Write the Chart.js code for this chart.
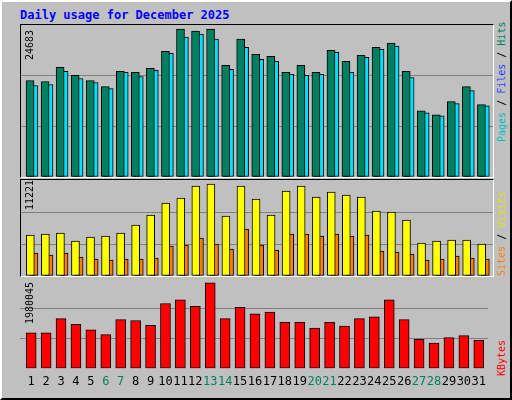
<!DOCTYPE html>
<html>
<head>
<meta charset="utf-8">
<script src="https://cdn.jsdelivr.net/npm/chart.js@4/dist/chart.umd.min.js"></script>
<style>
  body { margin: 0; background: #fff; }
  #page { position: absolute; left: 0; top: 0; width: 508px; height: 396px; background: #c0c0c0;
          border-top: 2px solid #fff; border-left: 2px solid #fff; border-right: 2px solid #000; border-bottom: 2px solid #000; }
  .title { position: absolute; left: 18px; top: 6px; font: bold 12px "DejaVu Sans Mono", monospace; color: #0000ff; }
  .panel { position: absolute; left: 18px; width: 472px; border-top: 1px solid #000; border-left: 1px solid #000;
           border-right: 1px solid #fff; border-bottom: 1px solid #fff; }
  .vlab { position: absolute; font: 10px "DejaVu Sans Mono", monospace; line-height: 12px; transform: rotate(-90deg); transform-origin: left top; white-space: nowrap; }
</style>
</head>
<body>
<div id="page">
  <div class="title">Daily usage for December 2025</div>
  <div class="panel" style="top:22px;height:152px"><canvas id="c1"></canvas></div>
  <div class="panel" style="top:177px;height:96px"><canvas id="c2"></canvas></div>
  <div class="panel" style="top:277px;height:116px;border:none"><canvas id="c3"></canvas></div>
  <div class="vlab" style="left:22px;top:58px;color:#000">24683</div>
  <div class="vlab" style="left:22px;top:208px;color:#000">11221</div>
  <div class="vlab" style="left:22px;top:322px;color:#000">1980045</div>
  <div class="vlab" style="left:494px;top:140px"><span style="color:#00c0c0">Pages</span> / <span style="color:#2040ff">Files</span> / <span style="color:#008060">Hits</span></div>
  <div class="vlab" style="left:494px;top:274px"><span style="color:#ff8000">Sites</span> / <span style="color:#e0e000">Visits</span></div>
  <div class="vlab" style="left:494px;top:374px"><span style="color:#ff0000">KBytes</span></div>
</div>
<script>
const days = Array.from({ length: 31 }, (_, i) => i + 1);
const weekend = [6, 7, 13, 14, 20, 21, 27, 28];

const hits = [16101, 15932, 18289, 16942, 16101, 15091, 17615, 17447, 18120, 20981, 24683, 24347, 24683, 18625, 23001, 20477,
    20140, 17447, 18625, 17447, 21150, 19298, 20308, 21655, 22328, 17615, 11052, 10379, 12566, 15091, 12062];
const files = [15259, 15428, 17615, 16437, 15764, 14754, 17447, 16774, 17784, 20645, 23338, 23843, 23001, 17952, 21655, 19635,
    19298, 17111, 16942, 17111, 20813, 17447, 19972, 21318, 21823, 16606, 10715, 10210, 12230, 14418, 11893];
const pages = [13576, 13408, 15764, 15091, 14081, 12903, 15764, 15428, 16101, 18625, 21823, 21318, 23169, 16942, 21486, 19130,
    19130, 15764, 17615, 15932, 18794, 16942, 17784, 17279, 20477, 15764, 9537, 8696, 10715, 12230, 9200];
const visits = [5001, 5123, 5245, 4269, 4757, 4879, 5245, 6221, 7441, 8905, 9514, 10978, 11221, 7319, 10978, 9392,
    7441, 10368, 10978, 9636, 10246, 9880, 9636, 7929, 7807, 6831, 4025, 4269, 4391, 4391, 3903];
const sites = [2806, 2562, 2806, 2318, 2074, 1952, 2074, 2074, 2196, 3659, 3781, 4635, 3903, 3293, 5733, 3781,
    3171, 5123, 5123, 4879, 5123, 4879, 5001, 3050, 2928, 2684, 1952, 2074, 2440, 2196, 2074];
const kbytes = [826842, 826842, 1153227, 1022673, 892119, 783324, 1131468, 1109709, 1000914, 1501371, 1588407, 1436094, 1980045,
    1153227, 1414335, 1262022, 1305540, 1066191, 1066191, 935637, 1066191, 979155, 1153227, 1196745, 1588407, 1131468,
    674529, 587493, 718047, 761565, 652770];

const pts = (vals, off) => vals.map((v, i) => ({ x: days[i] + off, y: v }));

// webalizer overlaps its bars, so no grouping; higher order ends up on top
function bars(vals, off, color, width, order) {
    return { data: pts(vals, off), backgroundColor: color, borderColor: '#000', borderWidth: 1,
             barThickness: width, order, grouped: false, borderSkipped: false };
}

function makeChart(id, height, datasets, ymax, showX) {
    const el = document.getElementById(id);
    el.width = 472; el.height = height;
    el.style.width = '472px'; el.style.height = height + 'px';
    return new Chart(el.getContext('2d'), {
        type: 'bar',
        data: { datasets },
        options: {
            responsive: false, animation: false,
            layout: { padding: 0 },
            plugins: { legend: { display: false }, tooltip: { enabled: false } },
            scales: {
                x: {
                    type: 'linear', min: 0.25, max: 31.62, offset: false,
                    display: showX,
                    grid: { display: false, drawTicks: false },
                    border: { display: false },
                    afterBuildTicks: ax => { ax.ticks = days.map(d => ({ value: d })); },
                    ticks: {
                        padding: 6, autoSkip: false, maxRotation: 0,
                        font: { family: 'DejaVu Sans Mono', size: 12 },
                        color: c => weekend.includes(c.tick.value) ? '#008060' : '#000',
                        callback: v => String(v)
                    }
                },
                y: {
                    min: 0, max: ymax, display: true,
                    ticks: { display: false, stepSize: ymax / 3 },
                    grid: { color: c => c.tick.value > 0 && c.tick.value < ymax ? '#808080' : 'rgba(0,0,0,0)', drawTicks: false, lineWidth: 1 },
                    border: { display: false }
                }
            }
        }
    });
}

makeChart('c1', 152, [
    bars(hits, -0.15, '#008060', 8, 1),
    bars(pages, -0.22, '#0040ff', 3, 2),
    bars(files, 0.11, '#00e0ff', 8, 3)
], 25360, false);

makeChart('c2', 96, [
    bars(visits, -0.13, '#ffff00', 8, 1),
    bars(sites, 0.11, '#ff8000', 8, 2)
], 11709, false);

makeChart('c3', 116, [
    bars(kbytes, 0, '#ff0000', 10, 1)
], 2067080, true);
</script>
</body>
</html>
